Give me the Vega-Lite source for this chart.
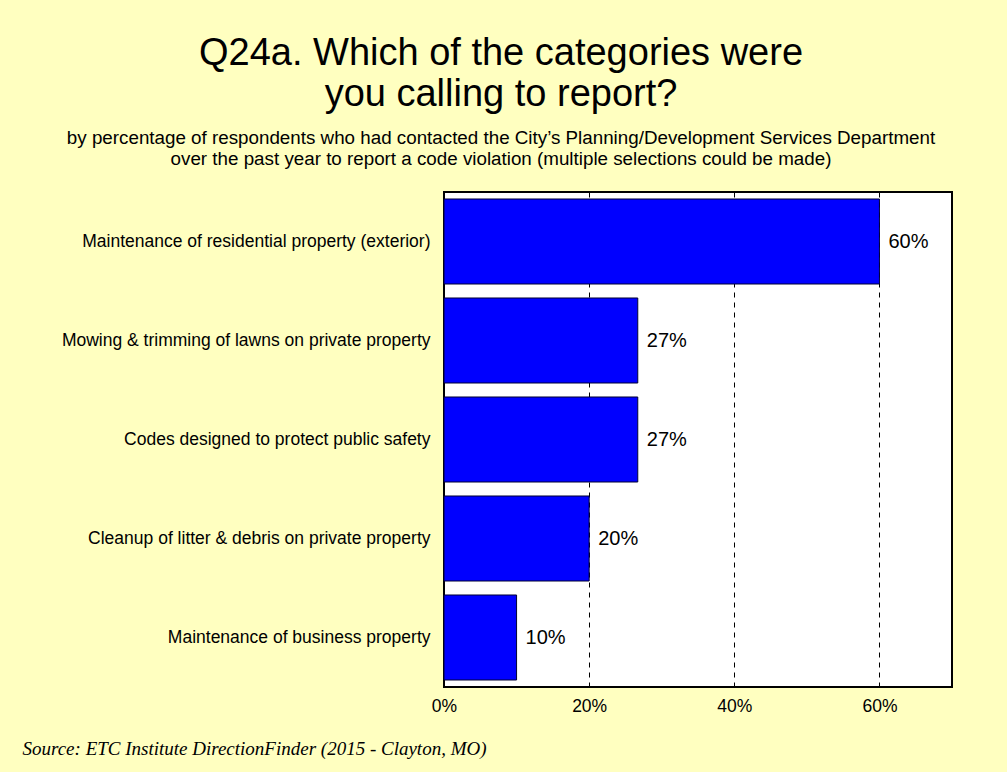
{
  "$schema": "https://vega.github.io/schema/vega-lite/v6.json",
  "width": 508,
  "height": 495,
  "autosize": {"type": "none"},
  "padding": {"left": 444, "top": 192, "right": 55, "bottom": 85},
  "background": "#FFFFC0",
  "title": {
    "text": ["Q24a. Which of the categories were", "you calling to report?"],
    "subtitle": ["by percentage of respondents who had contacted the City’s Planning/Development Services Department", "over the past year to report a code violation (multiple selections could be made)"],
    "anchor": "middle",
    "frame": "group",
    "dx": -197,
    "font": "Liberation Sans",
    "fontSize": 38,
    "fontWeight": "normal",
    "lineHeight": 41,
    "color": "#000000",
    "subtitleFont": "Liberation Sans",
    "subtitleFontSize": 18.8,
    "subtitleLineHeight": 21,
    "subtitleColor": "#000000",
    "subtitlePadding": 15,
    "offset": 23
  },
  "config": {"view": {"stroke": "#000000", "strokeWidth": 2, "fill": "#FFFFFF"}},
  "data": {
    "values": [
      {"category": "Maintenance of residential property (exterior)", "value": 0.6},
      {"category": "Mowing & trimming of lawns on private property", "value": 0.267},
      {"category": "Codes designed to protect public safety", "value": 0.267},
      {"category": "Cleanup of litter & debris on private property", "value": 0.2},
      {"category": "Maintenance of business property", "value": 0.1}
    ]
  },
  "layer": [
    {
      "mark": {"type": "bar", "color": "#0000FF", "stroke": "#000033", "strokeWidth": 1},
      "encoding": {
        "y": {
          "field": "category", "type": "nominal", "sort": null,
          "scale": {"paddingInner": 0.1414, "paddingOuter": 0.0707},
          "axis": {"title": null, "domain": false, "ticks": false, "grid": false, "labelFont": "Liberation Sans", "labelFontSize": 17.5, "labelColor": "#000000", "labelPadding": 14, "labelLimit": 420}
        },
        "x": {
          "field": "value", "type": "quantitative",
          "scale": {"domain": [0, 0.7], "nice": false},
          "axis": {
            "values": [0, 0.2, 0.4, 0.6], "format": ".0%",
            "grid": true, "gridColor": "#000000", "gridDash": [5, 5], "gridWidth": 1,
            "domain": false, "ticks": false, "labelFlush": false,
            "labelFont": "Liberation Sans", "labelFontSize": 17.5, "labelColor": "#000000", "labelPadding": 10,
            "title": "Source:  ETC Institute DirectionFinder (2015 - Clayton, MO)",
            "titleFont": "Liberation Serif", "titleFontStyle": "italic", "titleFontWeight": "normal", "titleFontSize": 19, "titleColor": "#000000",
            "titleAnchor": "start", "titleAlign": "left", "titleBaseline": "alphabetic", "titleX": -422, "titleY": 67
          }
        }
      }
    },
    {
      "mark": {"type": "text", "align": "left", "baseline": "middle", "dx": 9, "font": "Liberation Sans", "fontSize": 20, "color": "#000000"},
      "encoding": {
        "y": {"field": "category", "type": "nominal", "sort": null},
        "x": {"field": "value", "type": "quantitative"},
        "text": {"field": "value", "type": "quantitative", "format": ".0%"}
      }
    }
  ]
}
